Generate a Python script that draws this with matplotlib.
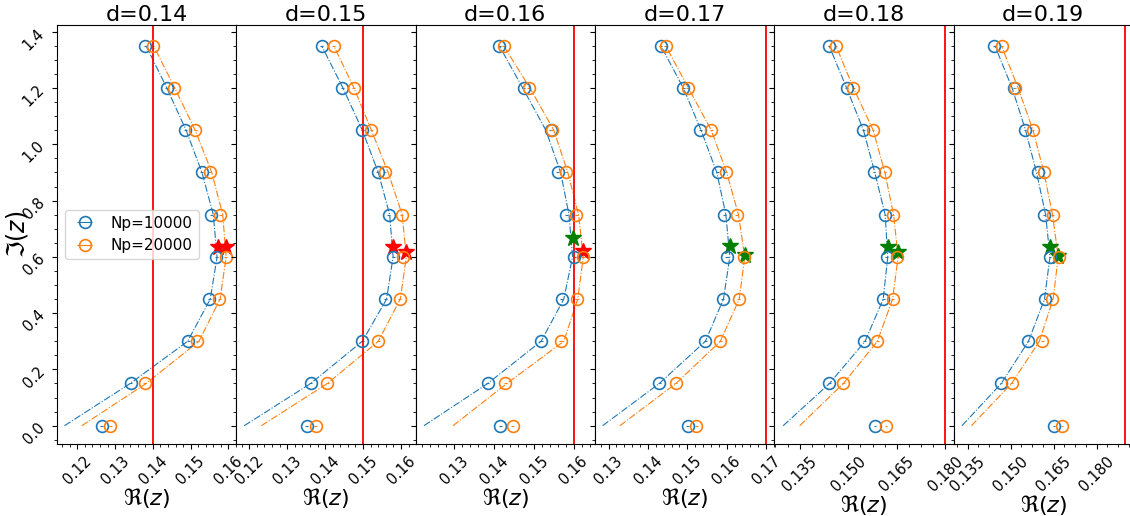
import matplotlib
matplotlib.use("Agg")
import matplotlib.pyplot as plt

# one panel per d value
d_values = [0.14, 0.15, 0.16, 0.17, 0.18, 0.19]

# imaginary part of the sampled points (same for every panel)
y_levels = [0.0, 0.15, 0.3, 0.45, 0.6, 0.75, 0.9, 1.05, 1.2, 1.35]

# real part, Np=10000
blue_x = [
    [0.1265, 0.1342, 0.1494, 0.1549, 0.1568, 0.1555, 0.1530, 0.1486, 0.1437, 0.1380],
    [0.1351, 0.1362, 0.1498, 0.1559, 0.1579, 0.1568, 0.1538, 0.1498, 0.1445, 0.1391],
    [0.1416, 0.1384, 0.1518, 0.1570, 0.1601, 0.1581, 0.1560, 0.1543, 0.1474, 0.1413],
    [0.1501, 0.1429, 0.1546, 0.1590, 0.1601, 0.1594, 0.1577, 0.1533, 0.1490, 0.1433],
    [0.1583, 0.1442, 0.1550, 0.1608, 0.1619, 0.1613, 0.1580, 0.1547, 0.1495, 0.1441],
    [0.1652, 0.1465, 0.1561, 0.1619, 0.1637, 0.1617, 0.1596, 0.1549, 0.1511, 0.1441],
]
# real part, Np=20000
orange_x = [
    [0.1287, 0.1378, 0.1518, 0.1576, 0.1593, 0.1579, 0.1550, 0.1512, 0.1455, 0.1400],
    [0.1375, 0.1406, 0.1540, 0.1596, 0.1605, 0.1602, 0.1557, 0.1522, 0.1476, 0.1423],
    [0.1447, 0.1428, 0.1568, 0.1608, 0.1623, 0.1606, 0.1580, 0.1545, 0.1487, 0.1424],
    [0.1523, 0.1471, 0.1584, 0.1631, 0.1643, 0.1626, 0.1598, 0.1561, 0.1501, 0.1445],
    [0.1616, 0.1485, 0.1590, 0.1637, 0.1652, 0.1637, 0.1613, 0.1577, 0.1516, 0.1462],
    [0.1678, 0.1503, 0.1611, 0.1645, 0.1668, 0.1646, 0.1617, 0.1578, 0.1514, 0.1470],
]
x_err = 0.0004

# dash-dot curves (read at y_levels)
blue_curve = [
    [0.1166, 0.1340, 0.1492, 0.1552, 0.1570, 0.1560, 0.1530, 0.1488, 0.1437, 0.1382],
    [0.1187, 0.1362, 0.1498, 0.1562, 0.1579, 0.1570, 0.1540, 0.1498, 0.1447, 0.1391],
    [0.1224, 0.1384, 0.1518, 0.1575, 0.1597, 0.1588, 0.1567, 0.1530, 0.1472, 0.1413],
    [0.1285, 0.1429, 0.1546, 0.1592, 0.1608, 0.1598, 0.1575, 0.1535, 0.1490, 0.1433],
    [0.1299, 0.1442, 0.1552, 0.1608, 0.1622, 0.1614, 0.1582, 0.1547, 0.1495, 0.1441],
    [0.1330, 0.1467, 0.1562, 0.1618, 0.1637, 0.1622, 0.1590, 0.1552, 0.1505, 0.1445],
]
orange_curve = [
    [0.1212, 0.1382, 0.1522, 0.1578, 0.1594, 0.1585, 0.1556, 0.1512, 0.1458, 0.1402],
    [0.1232, 0.1406, 0.1540, 0.1598, 0.1614, 0.1603, 0.1566, 0.1522, 0.1476, 0.1423],
    [0.1297, 0.1432, 0.1575, 0.1610, 0.1624, 0.1612, 0.1585, 0.1550, 0.1490, 0.1424],
    [0.1329, 0.1471, 0.1584, 0.1632, 0.1646, 0.1630, 0.1600, 0.1561, 0.1503, 0.1445],
    [0.1350, 0.1485, 0.1590, 0.1637, 0.1654, 0.1640, 0.1613, 0.1577, 0.1516, 0.1462],
    [0.1363, 0.1503, 0.1600, 0.1648, 0.1666, 0.1646, 0.1616, 0.1578, 0.1526, 0.1468],
]

# maxima of the curves (star markers)
blue_star_x = [0.1572, 0.1579, 0.1597, 0.1609, 0.1622, 0.1637]
blue_star_y = [0.636, 0.636, 0.666, 0.640, 0.634, 0.634]
orange_star_x = [0.1594, 0.1614, 0.1624, 0.1646, 0.1654, 0.1666]
orange_star_y = [0.634, 0.618, 0.622, 0.607, 0.618, 0.603]

x_ticks = [
    [0.12, 0.13, 0.14, 0.15, 0.16],
    [0.12, 0.13, 0.14, 0.15, 0.16],
    [0.13, 0.14, 0.15, 0.16],
    [0.13, 0.14, 0.15, 0.16, 0.17],
    [0.135, 0.150, 0.165, 0.180],
    [0.135, 0.150, 0.165, 0.180],
]
x_limits = [
    (0.11462, 0.16210),
    (0.11662, 0.16385),
    (0.12032, 0.16533),
    (0.12657, 0.17211),
    (0.12717, 0.18256),
    (0.13010, 0.19269),
]
y_ticks = [0.0, 0.2, 0.4, 0.6, 0.8, 1.0, 1.2, 1.4]

fig, axes = plt.subplots(1, 6, sharey=True, figsize=(11.3, 5.16), dpi=100)
fig.subplots_adjust(left=57 / 1130, right=1133 / 1130, bottom=1 - 444 / 516,
                    top=1 - 25 / 516, wspace=0)

for i, ax in enumerate(axes):
    d = d_values[i]
    ax.errorbar(blue_x[i], y_levels, xerr=x_err, fmt="o", mfc="none", ms=8.5,
                mew=1.2, color="C0", elinewidth=0.8, capsize=0, label="Np=10000")
    ax.errorbar(orange_x[i], y_levels, xerr=x_err, fmt="o", mfc="none", ms=8.5,
                mew=1.2, color="C1", elinewidth=0.8, capsize=0, label="Np=20000")
    ax.plot(blue_curve[i], y_levels, "-.", color="C0", lw=0.8)
    ax.plot(orange_curve[i], y_levels, "-.", color="C1", lw=0.8)
    ax.axvline(d, color="red", lw=1.3)

    # star is red when the maximum lies beyond d
    for sx, sy in [(blue_star_x[i], blue_star_y[i]), (orange_star_x[i], orange_star_y[i])]:
        ax.plot(sx, sy, "*", color="red" if sx > d else "green", ms=12)

    ax.set_title(f"d={d}", fontsize=16, pad=2)
    ax.set_xlabel(r"$\Re(z)$", fontsize=16, labelpad=-1)
    ax.set_xticks(x_ticks[i])
    ax.set_xlim(x_limits[i])
    ax.tick_params(axis="x", labelrotation=45, labelsize=10.5)
    ax.tick_params(axis="y", labelsize=10.5)
    ax.minorticks_on()

axes[0].set_yticks(y_ticks)
axes[0].set_ylim(-0.065, 1.424)
axes[0].tick_params(axis="y", labelrotation=45)
axes[0].set_ylabel(r"$\Im(z)$", fontsize=17)
axes[0].yaxis.set_label_coords(-0.15, 0.5)
axes[0].legend(loc="center left", handlelength=1.8, fontsize=11)

fig.savefig("out.png", dpi=100)
